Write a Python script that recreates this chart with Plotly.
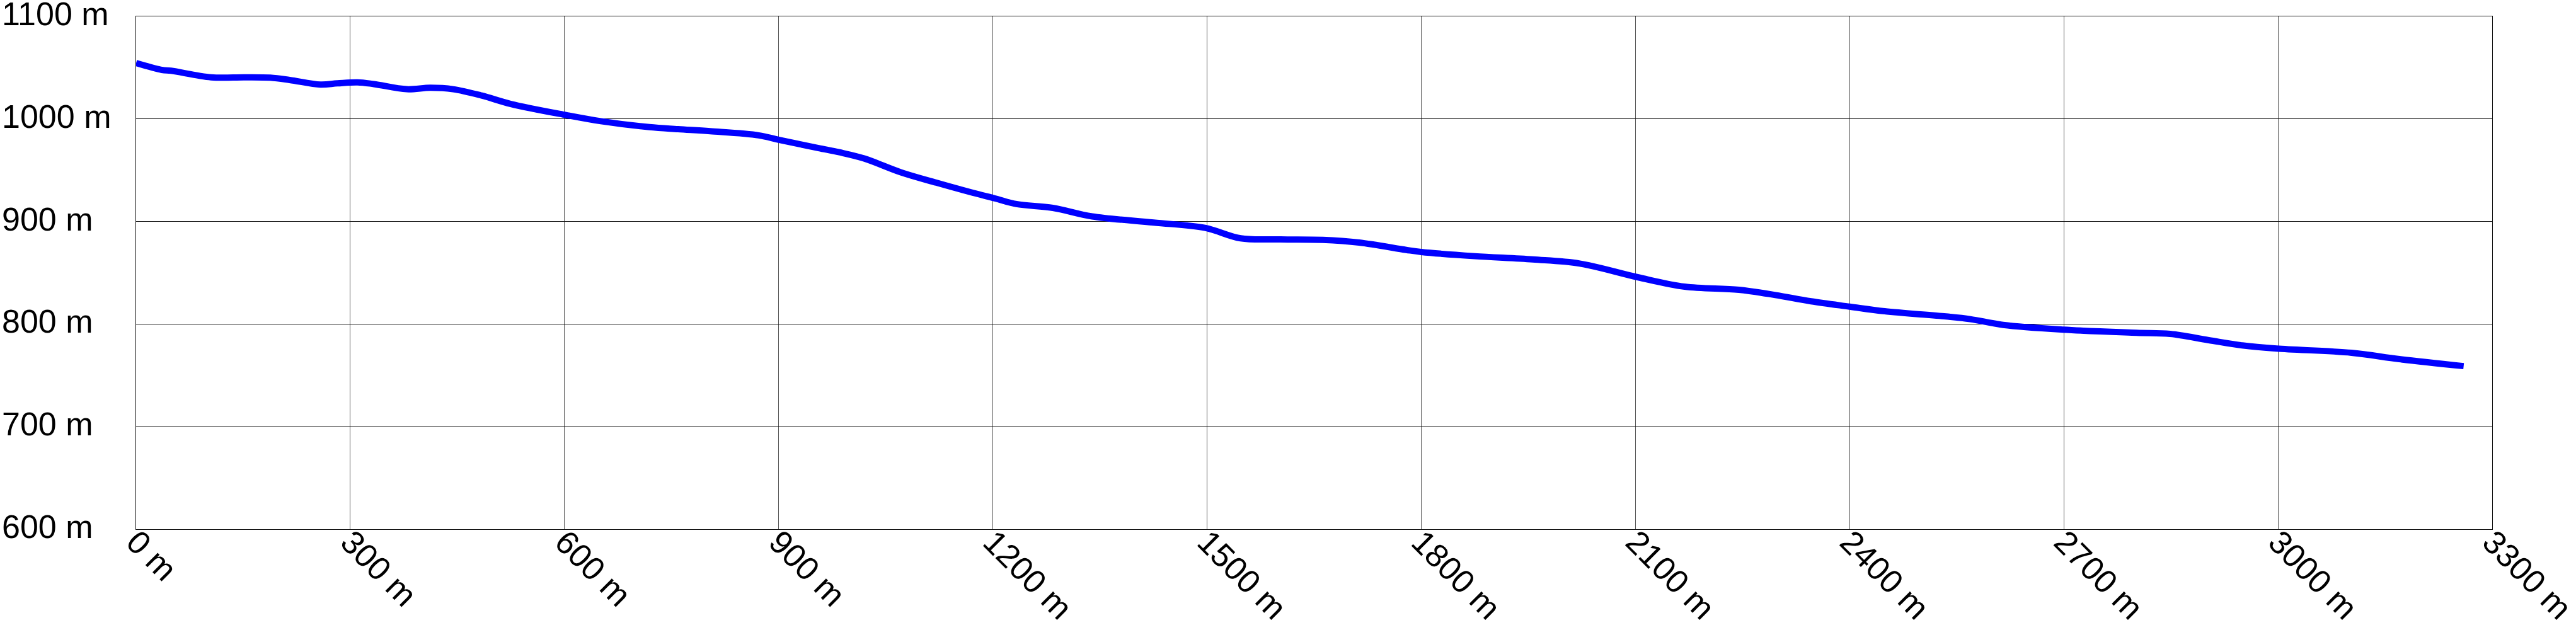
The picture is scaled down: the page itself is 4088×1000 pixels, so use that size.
import plotly.graph_objects as go

distance_m = [0, 36, 49, 105, 152, 188, 215, 258, 282, 310, 333, 379, 412, 444, 484, 525,
              602, 651, 719, 759, 804, 872, 901, 956, 985, 1020, 1071, 1121, 1172, 1203,
              1233, 1284, 1339, 1425, 1497, 1547, 1603, 1662, 1713, 1779, 1800, 1875, 1956,
              2022, 2103, 2169, 2245, 2296, 2346, 2400, 2449, 2535, 2569, 2615, 2699, 2802,
              2849, 2903, 2950, 2998, 3103, 3170, 3260]
elevation_m = [1054.5, 1047.8, 1047, 1040.6, 1040.6, 1040.2, 1038, 1033.5, 1034.7, 1035.7,
               1034, 1029, 1030.4, 1029, 1022.8, 1014.6, 1003.8, 997.8, 992, 990, 988, 984,
               979.5, 971.6, 967.5, 961.4, 948, 937.8, 928, 922.5, 917, 913.3, 905, 899,
               893.8, 883.6, 882.6, 882.1, 879.5, 872.3, 870.3, 866.2, 863, 859, 845.7,
               836.5, 833.4, 828.3, 822.2, 817, 812.5, 807.4, 804.8, 799.2, 794.6, 791.5,
               790.4, 784.3, 779.2, 776.1, 772, 765.8, 759]

x_ticks = [0, 300, 600, 900, 1200, 1500, 1800, 2100, 2400, 2700, 3000, 3300]
y_ticks = [600, 700, 800, 900, 1000, 1100]

W, H = 4088, 1000
ML, MR, MT, MB = 216, 133, 26, 160

fig = go.Figure()
fig.add_trace(go.Scatter(
    x=distance_m, y=elevation_m, mode="lines",
    line=dict(color="#0000ff", width=10, shape="spline", smoothing=1.0),
    showlegend=False, hoverinfo="skip",
))

font = dict(family="Liberation Sans, Arial, sans-serif", size=52, color="#000000")

# y tick labels are left-aligned at the figure's left edge in the reference
for v in y_ticks:
    fig.add_annotation(
        x=-(ML - 1) / (W - ML - MR), xref="paper", xanchor="left",
        y=v, yref="y", yanchor="middle", yshift=4,
        text=f"{v} m", showarrow=False, font=font,
    )

fig.update_layout(
    width=W, height=H, autosize=False,
    margin=dict(l=ML, r=MR, t=MT, b=MB, pad=0),
    paper_bgcolor="#ffffff", plot_bgcolor="#ffffff",
    font=font,
    xaxis=dict(
        range=[0, 3300], tickmode="array", tickvals=x_ticks,
        ticktext=[f"{v} m" for v in x_ticks],
        tickangle=45, showgrid=True, gridcolor="#555555", gridwidth=1,
        showline=True, mirror=True, linecolor="#111111", linewidth=1,
        zeroline=False, ticks="", tickfont=font, automargin=False,
        ticklabeloverflow="allow", ticklabelstandoff=-32,
    ),
    yaxis=dict(
        range=[600, 1100], tickmode="array", tickvals=y_ticks,
        showticklabels=False,
        showgrid=True, gridcolor="#111111", gridwidth=1,
        showline=True, mirror=True, linecolor="#111111", linewidth=1,
        zeroline=False, ticks="", automargin=False,
    ),
)

fig.write_html("out.html", config={"displayModeBar": False},
               post_script="document.body.style.margin='0';")
